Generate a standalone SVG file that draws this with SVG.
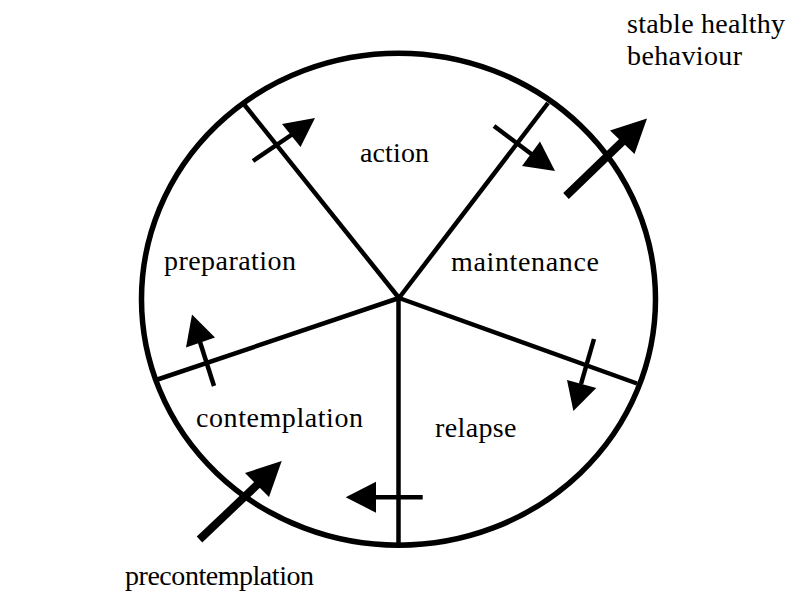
<svg xmlns="http://www.w3.org/2000/svg" width="788" height="605" viewBox="0 0 788 605">
<style>
.t{font-family:"Liberation Serif","Times New Roman",serif;font-size:28px;fill:#000}
.ring{fill:none;stroke:#000;stroke-width:5.5}
.spoke{stroke:#000;stroke-width:4.5;fill:none}
.sh{stroke:#000;stroke-width:4.5}
.shk{stroke:#000;stroke-width:8}
.hd{fill:#000;stroke:none}
</style>
<rect width="788" height="605" fill="#fff"/>
<g id="wheel">
<ellipse class="ring" cx="398.5" cy="299.2" rx="257" ry="246"/>
</g>
<g id="connectors">
<line class="spoke" x1="399" y1="298" x2="243" y2="103"/>
<line class="spoke" x1="399" y1="298" x2="548" y2="103"/>
<line class="spoke" x1="399" y1="298" x2="637" y2="383.5"/>
<line class="spoke" x1="399" y1="298" x2="156" y2="380"/>
<line class="spoke" x1="398.5" y1="296" x2="398.5" y2="545"/>
<line class="sh" x1="253" y1="161" x2="292" y2="134.5"/>
<polygon class="hd" points="315,118 282,124 300.5,147"/>
<line class="sh" x1="494" y1="126" x2="532" y2="154.5"/>
<polygon class="hd" points="555,171 540,141.5 522,166"/>
<line class="shk" x1="566" y1="196" x2="623" y2="141"/>
<polygon class="hd" points="647,118.5 610,130.5 634.5,154"/>
<line class="sh" x1="594" y1="339" x2="581" y2="384"/>
<polygon class="hd" points="573.4,411 567,380 596.3,388"/>
<line class="sh" x1="214" y1="386" x2="200" y2="342"/>
<polygon class="hd" points="192,314.5 186,347.5 215,337.5"/>
<line class="shk" x1="199.5" y1="539.5" x2="258" y2="484"/>
<polygon class="hd" points="281.7,461 245,473 269,497"/>
<line class="sh" x1="422.7" y1="497.3" x2="374" y2="497.3"/>
<polygon class="hd" points="345.7,497.3 376,481.7 376,512.7"/>
</g>
<g id="action"><text class="t" x="360" y="161.7" textLength="69">action</text></g>
<g id="preparation"><text class="t" x="164" y="269.5" textLength="132">preparation</text></g>
<g id="maintenance"><text class="t" x="451" y="270.7" textLength="148">maintenance</text></g>
<g id="contemplation"><text class="t" x="196" y="426.7" textLength="167">contemplation</text></g>
<g id="relapse"><text class="t" x="435" y="436.7" textLength="81.5">relapse</text></g>
<g id="stable"><text class="t" x="627" y="33" textLength="158">stable healthy</text><text class="t" x="627" y="65" textLength="115">behaviour</text></g>
<g id="precontemplation"><text class="t" x="125" y="585" textLength="189">precontemplation</text></g>
</svg>
